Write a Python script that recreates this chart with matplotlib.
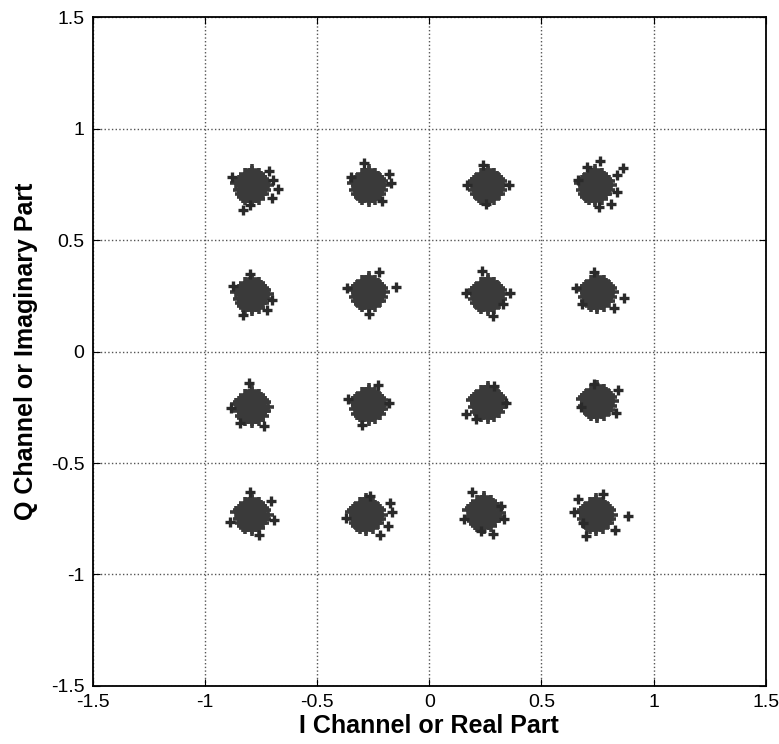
import numpy as np
import matplotlib
matplotlib.use("Agg")
import matplotlib.pyplot as plt

plt.rcParams['font.family'] = ['Liberation Sans', 'DejaVu Sans']

# Centros de cada grupo
centros_I = [-0.79, -0.27, 0.26, 0.74,
             -0.79, -0.27, 0.26, 0.75,
             -0.79, -0.27, 0.26, 0.75,
             -0.79, -0.28, 0.245, 0.745]
centros_Q = [0.745, 0.745, 0.745, 0.745,
             0.256, 0.265, 0.256, 0.265,
             -0.247, -0.238, -0.229, -0.224,
             -0.731, -0.731, -0.722, -0.731]

# Nucleo denso de cada grupo (desplazamientos, en centesimas)
nucleo_dI = [0, 2, -2, 1, -1, 3, -3, 0, 4, -4, 2, -2, 4, -4, 1, -1, 5, -5, 3, -3,
             5, -5, 2, -2, 6, -6, 0, 0, 4, -4, 6, -6, 3, -3, 1, -1, 2, -2, 3, -3,
             0, 5, -5, 1, -1, 4, 7, -7, 0, 0]
nucleo_dQ = [0, 1, 1, -2, -2, -1, -1, 3, 2, 2, 4, 4, -3, -3, -4, 5, 0, 0, 5, 5,
             -4, -4, -5, -5, 2, 2, 6, -6, 4, -5, -2, -2, -6, -6, 2, 3, -1, -1, 2, 2,
             -3, 3, 3, -1, 0, -1, 0, 1, 7, -7]

# Puntos dispersos de cada grupo (desplazamientos respecto al centro)
dispersos = [
    [(-0.09, 0.04), (0.078, 0.063), (0.093, 0.023), (0.116, -0.015), (0.087, -0.057),
     (-0.008, -0.087), (-0.042, -0.11)],
    [(0.10, 0.01), (0.09, 0.05), (-0.02, 0.10), (-0.08, 0.04), (0.06, -0.07)],
    [(-0.022, 0.09), (0.097, 0.0), (-0.008, -0.083), (-0.09, 0.0)],
    [(0.023, 0.108), (0.123, 0.08), (-0.037, 0.083), (0.098, 0.045), (0.098, -0.03),
     (0.072, -0.083), (0.018, -0.098), (-0.075, 0.023)],
    [(-0.083, 0.038), (-0.038, -0.09), (0.068, -0.068), (-0.008, 0.09), (0.09, -0.023)],
    [(-0.098, 0.018), (0.12, 0.023), (0.0, -0.095), (0.045, 0.09)],
    [(-0.023, 0.105), (0.023, -0.098), (0.098, 0.008), (-0.098, 0.008), (0.068, -0.045)],
    [(-0.098, 0.018), (0.12, -0.027), (-0.068, -0.053), (0.075, -0.068), (-0.015, 0.09)],
    [(-0.015, 0.105), (-0.093, -0.008), (0.053, -0.087), (-0.053, -0.075)],
    [(0.042, 0.087), (-0.09, 0.023), (0.09, 0.008), (-0.03, -0.09)],
    [(-0.098, -0.053), (0.083, 0.0), (0.03, 0.075), (-0.053, -0.075)],
    [(-0.015, 0.08), (-0.075, -0.023), (0.09, 0.053), (0.083, -0.053)],
    [(-0.008, 0.10), (-0.098, -0.035), (0.083, 0.06), (0.098, -0.023), (0.03, -0.09)],
    [(0.105, 0.05), (0.113, 0.01), (-0.09, -0.015), (0.06, -0.09), (0.015, 0.083),
     (0.098, -0.05)],
    [(-0.053, 0.09), (-0.09, -0.03), (0.075, 0.03), (0.09, -0.03), (-0.015, -0.083),
     (0.038, -0.098)],
    [(0.03, 0.09), (-0.083, 0.068), (-0.098, 0.01), (0.143, -0.005), (-0.045, -0.098),
     (0.083, -0.068), (-0.06, -0.038)],
]

ticks = [-1.5, -1, -0.5, 0, 0.5, 1, 1.5]
tick_labels = ["-1.5", "-1", "-0.5", "0", "0.5", "1", "1.5"]

# Armar los puntos: nucleo y dispersos por separado
I_nuc, Q_nuc, I_dis, Q_dis = [], [], [], []
for k in range(len(centros_I)):
    for dx, dy in zip(nucleo_dI, nucleo_dQ):
        I_nuc.append(centros_I[k] + dx / 100)
        Q_nuc.append(centros_Q[k] + dy / 100)
    for dx, dy in dispersos[k]:
        I_dis.append(centros_I[k] + dx)
        Q_dis.append(centros_Q[k] + dy)

fig = plt.figure(figsize=(7.79, 7.44), dpi=100)
ax = fig.add_axes([0.119, 0.078, 0.864, 0.899])

ax.plot(I_nuc, Q_nuc, linestyle='none', marker='+', markersize=8,
        markeredgewidth=2.6, color='#3a3a3a')
ax.plot(I_dis, Q_dis, linestyle='none', marker='+', markersize=6.5,
        markeredgewidth=2.4, color='#2a2a2a')

ax.set_xlim(-1.5, 1.5)
ax.set_ylim(-1.5, 1.5)
ax.set_xticks(ticks)
ax.set_yticks(ticks)
ax.set_xticklabels(tick_labels)
ax.set_yticklabels(tick_labels)
ax.tick_params(direction='in', top=True, right=True, labelsize=14, length=5, pad=6)
ax.grid(True, linestyle=':', color='#555555', linewidth=1)
for s in ax.spines.values():
    s.set_linewidth(1.3)

ax.set_xlabel("I Channel or Real Part", fontsize=18, fontweight='bold', labelpad=2)
ax.set_ylabel("Q Channel or Imaginary Part", fontsize=18, fontweight='bold', labelpad=9)

fig.savefig("out.png", dpi=100)
